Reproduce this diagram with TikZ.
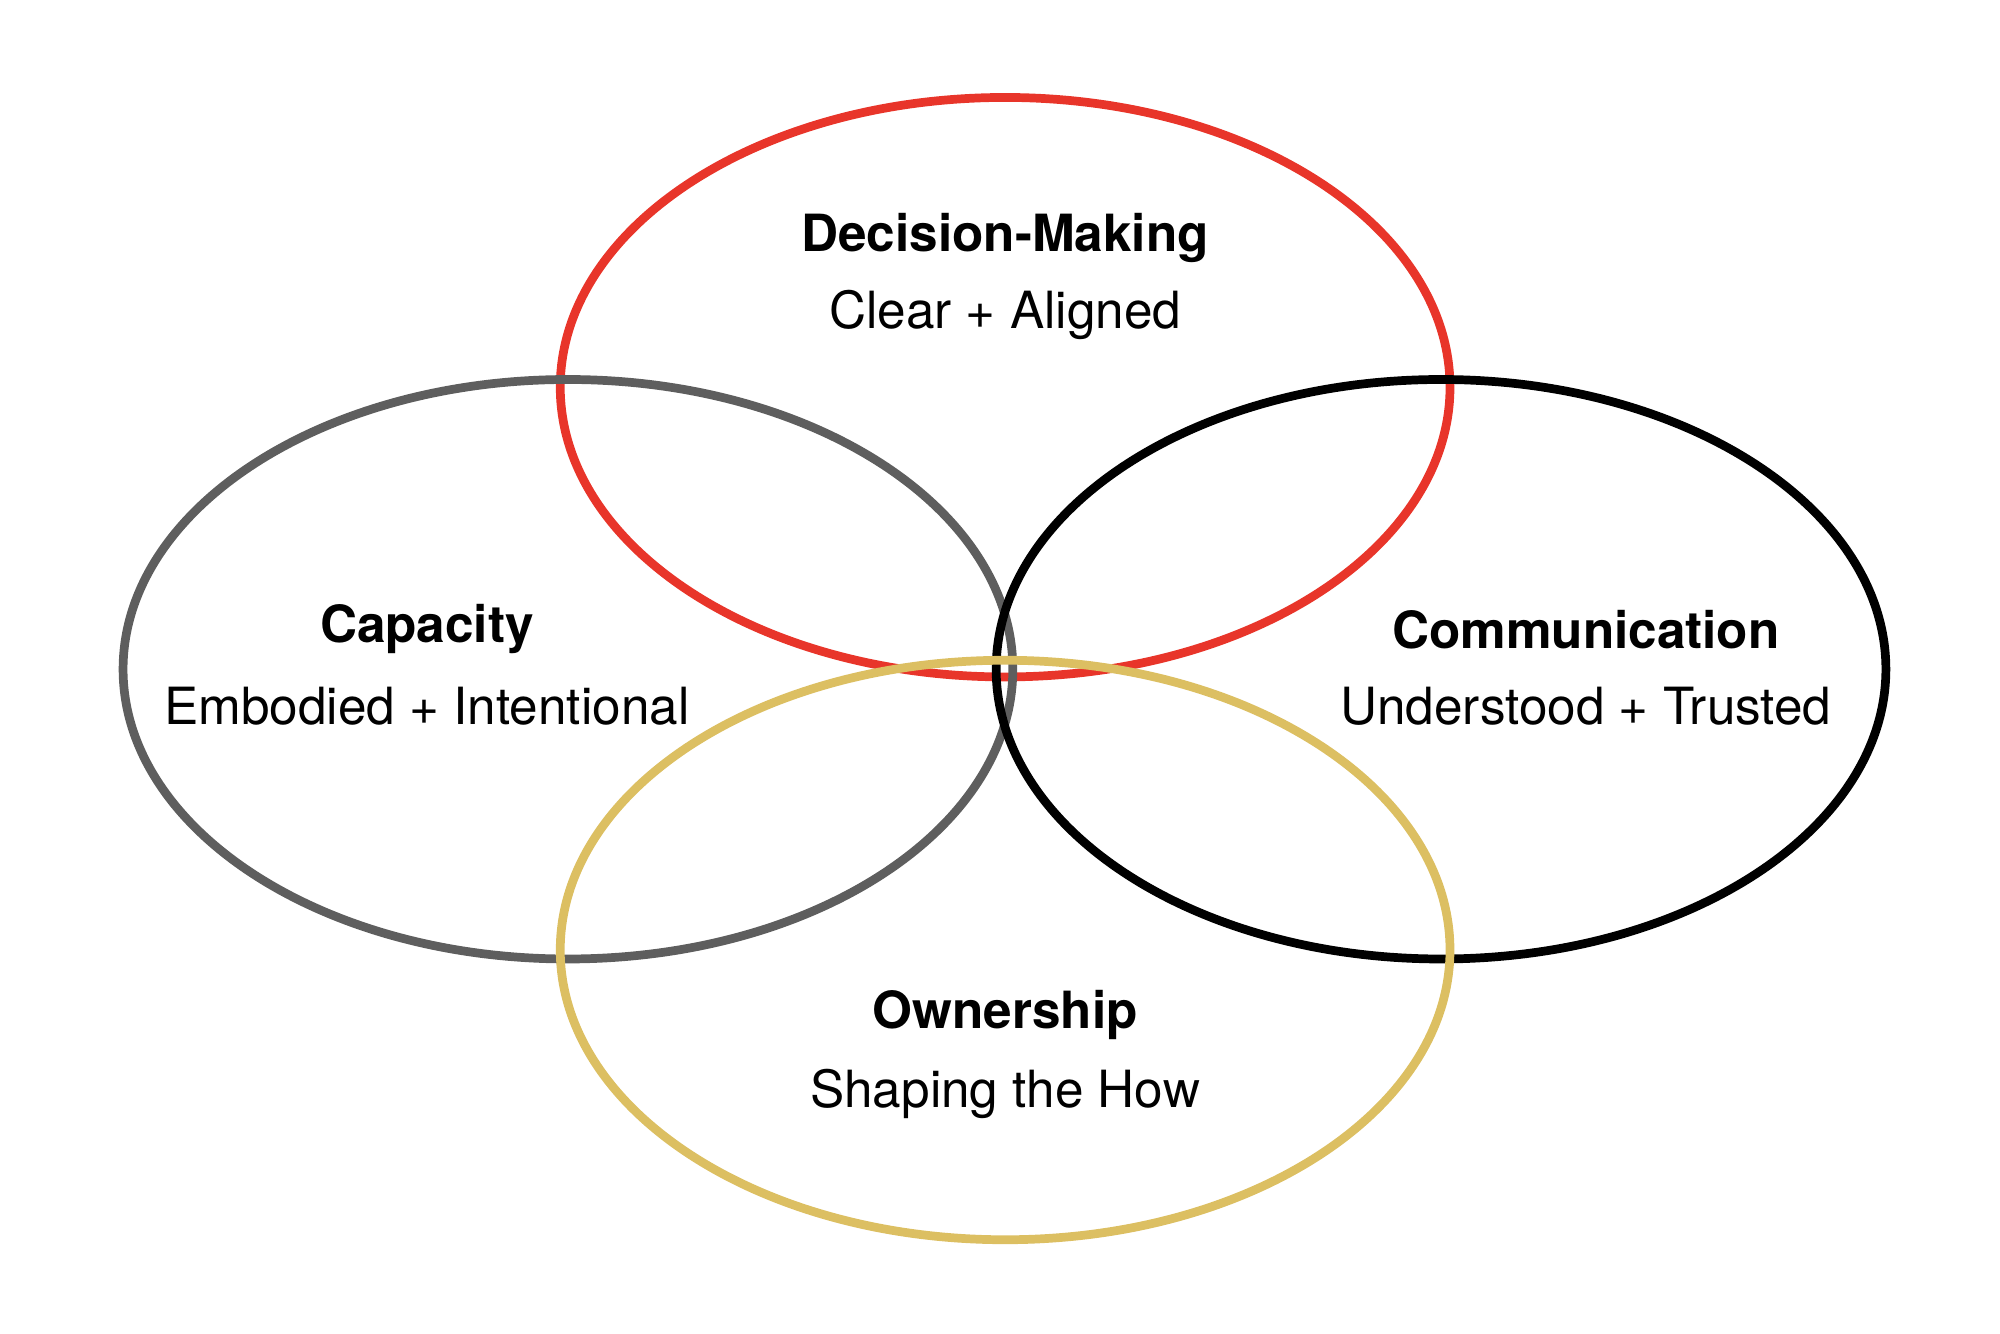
\documentclass[tikz,border=0pt]{standalone}
\usepackage{fontspec}
\setmainfont{TeX Gyre Heros}
\usetikzlibrary{shapes.geometric}
\definecolor{cred}{HTML}{E8352A}
\definecolor{cgrey}{HTML}{5E5E5E}
\definecolor{cgold}{HTML}{DCBF62}
\begin{document}
\begin{tikzpicture}[x=0.5pt,y=-0.5pt,
  ring/.style={ellipse,draw,line width=3.4pt,minimum width=347pt,minimum height=226pt,inner sep=0pt},
  ttl/.style={font=\fontsize{20}{24}\selectfont\bfseries},
  sub/.style={font=\fontsize{20}{24}\selectfont}]
\useasboundingbox (0,0) rectangle (1560,1040);
\node[ring,cred] (dm) at (784,302) {};
\node[ring,cgrey] (cap) at (443,522) {};
\node[ring,black] (com) at (1124,522) {};
\node[ring,cgold] (own) at (784,741) {};
\node[ttl] (t1) at (784,186) {Decision-Making};
\node[sub] (s1) at (784,246) {Clear + Aligned};
\node[ttl] (t2) at (333,491) {Capacity};
\node[sub] (s2) at (333,551) {Embodied + Intentional};
\node[ttl] (t3) at (1237,491) {Communication};
\node[sub] (s3) at (1237,551) {Understood + Trusted};
\node[ttl] (t4) at (784,792) {Ownership};
\node[sub] (s4) at (784,853) {Shaping the How};
\end{tikzpicture}
\end{document}
